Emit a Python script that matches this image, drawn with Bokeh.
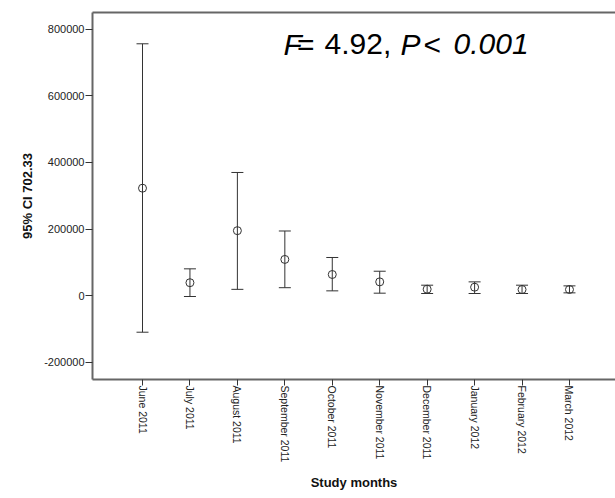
import math
from bokeh.plotting import figure
from bokeh.models import (Range1d, FixedTicker, LinearAxis, Whisker, TeeHead,
                          ColumnDataSource, Label)
from bokeh.embed import file_html
from bokeh.resources import INLINE

# ---- data ----
months = ["June 2011", "July 2011", "August 2011", "September 2011", "October 2011",
          "November 2011", "December 2011", "January 2012", "February 2012", "March 2012"]
means = [322700, 38500, 195000, 108500, 63200, 41000, 19000, 25000, 18000, 18000]
lower = [-110400, -3000, 18500, 23500, 14000, 7000, 6000, 6000, 6000, 8000]
upper = [757000, 80200, 370000, 194000, 114300, 73000, 31000, 41000, 31000, 29000]
y_ticks = [-200000, 0, 200000, 400000, 600000, 800000]
y_tick_labels = ["-200000", "0", "200000", "400000", "600000", "800000"]
y_label = "95% CI 702.33"
x_label = "Study months"
stat_parts = [("F", "italic"), ("=", "normal"), ("4.92,", "normal"),
              ("P", "italic"), ("<", "normal"), ("0.001", "italic")]

FONT = "Liberation Sans"
INK = "#333333"

xs = list(range(len(months)))
src = ColumnDataSource(dict(x=xs, mean=means, lower=lower, upper=upper))

p = figure(width=615, height=498,
           x_range=Range1d(-1.054, 9.97), y_range=Range1d(-252600, 851100),
           output_backend="svg", toolbar_location=None,
           min_border_left=92, min_border_right=0, min_border_top=12, min_border_bottom=119,
           background_fill_color="white", border_fill_color="white")
p.outline_line_color = None
p.xgrid.visible = False
p.ygrid.visible = False

# x axis
xa = p.xaxis[0]
xa.ticker = FixedTicker(ticks=xs)
xa.major_label_overrides = {i: m for i, m in enumerate(months)}
xa.major_label_orientation = -math.pi / 2
xa.major_label_text_font = FONT
xa.major_label_text_font_size = "10.5px"
xa.major_label_text_color = "#222222"
xa.major_label_standoff = 0
xa.major_tick_in = 0
xa.major_tick_out = 6
xa.minor_tick_out = 0
xa.minor_tick_in = 0
xa.major_tick_line_color = INK
xa.axis_line_color = "#666666"
xa.axis_line_width = 2
xa.axis_label = x_label
xa.axis_label_text_font = FONT
xa.axis_label_text_font_style = "bold"
xa.axis_label_text_font_size = "13px"
xa.axis_label_text_color = "#111111"
xa.axis_label_standoff = 10

# y axis
ya = p.yaxis[0]
ya.ticker = FixedTicker(ticks=y_ticks)
ya.major_label_overrides = {t: s for t, s in zip(y_ticks, y_tick_labels)}
ya.major_label_text_font = FONT
ya.major_label_text_font_size = "11px"
ya.major_label_text_color = "#222222"
ya.major_label_standoff = 1
ya.major_tick_in = 0
ya.major_tick_out = 7
ya.minor_tick_out = 0
ya.minor_tick_in = 0
ya.major_tick_line_color = INK
ya.axis_line_color = "#666666"
ya.axis_line_width = 2
ya.axis_label = y_label
ya.axis_label_text_font = FONT
ya.axis_label_text_font_style = "bold"
ya.axis_label_text_font_size = "13px"
ya.axis_label_text_color = "#111111"
ya.axis_label_standoff = 6

# top frame line
top = LinearAxis(ticker=FixedTicker(ticks=[]), major_tick_in=0, major_tick_out=0,
                 minor_tick_in=0, minor_tick_out=0, major_label_text_font_size="0px",
                 axis_line_color="#666666", axis_line_width=2)
p.add_layout(top, "above")

# error bars
whisk = Whisker(base="x", lower="lower", upper="upper", source=src,
                line_color=INK, line_width=1,
                upper_head=TeeHead(size=12, line_color=INK, line_width=1),
                lower_head=TeeHead(size=12, line_color=INK, line_width=1))
p.add_layout(whisk)

p.scatter("x", "mean", source=src, marker="circle", size=8,
          fill_color=None, line_color=INK, line_width=1)

# statistic annotation
offsets = [0, 13.5, 41, 117, 140, 170]
for (txt, style), off in zip(stat_parts, offsets):
    p.add_layout(Label(x=2.972, y=755000, x_offset=off, text=txt,
                       text_font=FONT, text_font_style=style, text_font_size="30px",
                       text_color="#000000", text_baseline="alphabetic", text_align="left"))

open("out.html", "w").write(file_html(p, INLINE))
